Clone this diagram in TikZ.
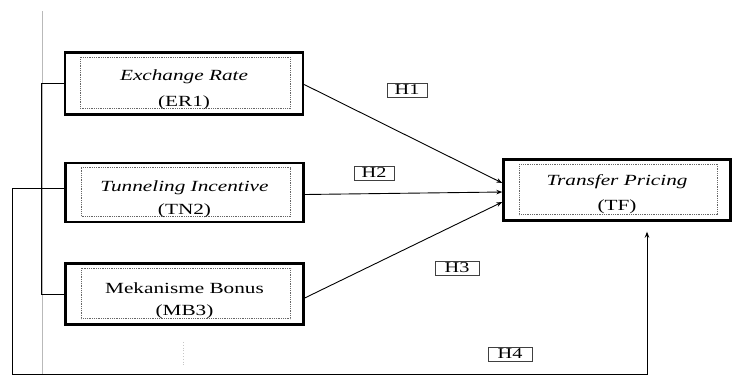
\documentclass[tikz,border=0pt]{standalone}
\usepackage{fontspec}
\setmainfont{Liberation Serif}
\usetikzlibrary{arrows.meta}
\begin{document}
\begin{tikzpicture}[x=1pt,y=-1pt,
  varbox/.style={draw,line width=2.4pt,minimum width=238pt,inner sep=0pt},
  innerbox/.style={draw=black!60,line width=0.8pt,densely dotted},
  boxtext/.style={font=\fontsize{15.5}{18}\selectfont,xscale=1.37,inner sep=0pt},
  hyp/.style={draw=black!75,line width=0.8pt,minimum width=40pt,minimum height=14pt,inner sep=0pt,font=\fontsize{15}{15}\selectfont},
  path/.style={line width=0.9pt},
  arrow/.style={line width=0.9pt,-{Stealth[length=6pt,width=4.5pt]}}]
\useasboundingbox (0,0) rectangle (733,376);
%\draw[step=50,gray,very thin] (0,0) grid (733,376); %background grid

% page edge
\draw[gray!55,line width=0.9pt] (42,11) -- (42,374);
\draw[gray!45,dotted,line width=0.8pt] (183,342) -- (183,365);

% variables
\node[varbox,minimum height=62pt] (er) at (184,83.5) {};
\node[varbox,minimum height=59pt] (tn) at (184.5,192.5) {};
\node[varbox,minimum height=61pt] (mb) at (184.5,294) {};
\node[varbox,minimum width=227pt,minimum height=61pt] (tf) at (617,190) {};

\foreach \b in {er,tn,mb,tf}
  \draw[innerbox] ([xshift=17pt,yshift=-6pt]\b.north west) rectangle ([xshift=-14pt,yshift=7pt]\b.south east);

\node[boxtext] (er title) at ([yshift=7pt]er.center) {\itshape Exchange Rate};
\node[boxtext] (er code) at ([yshift=-19pt]er.center) {(ER1)};
\node[boxtext] (tn title) at ([yshift=5pt]tn.center) {\itshape Tunneling Incentive};
\node[boxtext] (tn code) at ([yshift=-18pt]tn.center) {(TN2)};
\node[boxtext] (mb title) at ([yshift=6pt]mb.center) {Mekanisme Bonus};
\node[boxtext] (mb code) at ([yshift=-18pt]mb.center) {(MB3)};
\node[boxtext] (tf title) at ([yshift=8pt]tf.center) {\itshape Transfer Pricing};
\node[boxtext] (tf code) at ([yshift=-17pt]tf.center) {(TF)};

% hypotheses
\node[hyp] (h1) at (407,90) {\scalebox{1.35}[1]{H1}};
\node[hyp] (h2) at (374,173) {\scalebox{1.35}[1]{H2}};
\node[hyp,minimum width=44pt] (h3) at (457,268) {\scalebox{1.35}[1]{H3}};
\node[hyp,minimum width=44pt] (h4) at (510,354) {\scalebox{1.35}[1]{H4}};

% paths
\draw[arrow] ([yshift=-1pt]er.east) -- ([yshift=7pt]tf.west);
\draw[arrow] ([yshift=-2pt]tn.east) -- ([yshift=-2pt]tf.west);
\draw[arrow] ([yshift=-4pt]mb.east) -- ([yshift=-12pt]tf.west);

\draw[path] (er.west) -- ++(-22,0) |- (mb.west);
\draw[arrow] ([yshift=4pt]tn.west) -- ++(-52,0) -- ++(0,186) -| ([xshift=30pt,yshift=-10pt]tf.south);
\end{tikzpicture}
\end{document}
